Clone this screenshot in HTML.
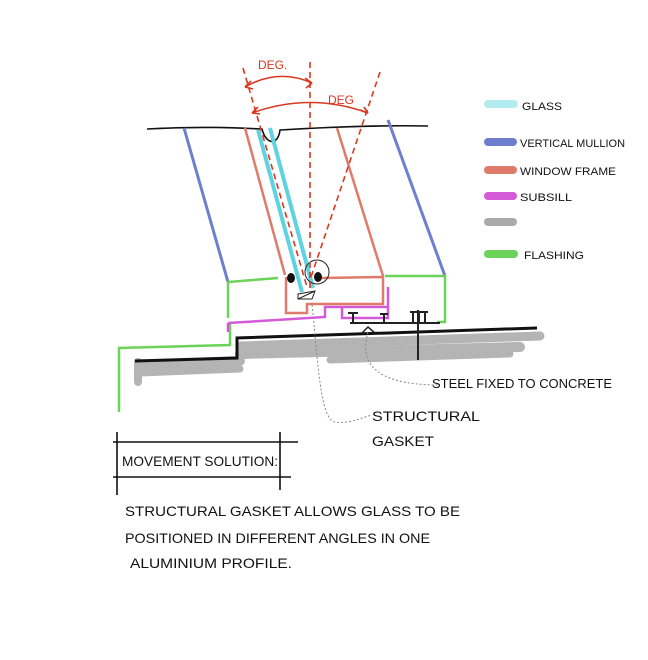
<!DOCTYPE html>
<html><head><meta charset="utf-8"><style>
html,body{margin:0;padding:0;background:#fff;}
svg{display:block}
text{font-family:"Liberation Sans",sans-serif;}
</style></head><body>
<svg width="648" height="660" viewBox="0 0 648 660" xmlns="http://www.w3.org/2000/svg">
<rect width="648" height="660" fill="#fff"/>
<g stroke="#a8a8a8" stroke-linecap="round" fill="none" opacity="0.85">
<path d="M138 362 L138 382" stroke-width="8"/>
<path d="M140 365 L240 361" stroke-width="10"/>
<path d="M240 346 L540 336" stroke-width="9"/>
<path d="M240 354 L520 347" stroke-width="10"/>
<path d="M330 360 L510 354" stroke-width="7"/>
<path d="M140 373 L240 369" stroke-width="7"/>
</g>
<path d="M135 361 L237 358 L237 338 L537 328" stroke="#111" stroke-width="3" fill="none"/>
<path d="M147 129 C200 126 240 128 262 129 C266 145 278 146 280 130 C330 127 380 125 428 126" stroke="#111" stroke-width="1.6" fill="none"/>
<path d="M184 128 L228 282" stroke="#6f7fcf" stroke-width="3" fill="none"/>
<path d="M388 120 L445 276" stroke="#6f7fcf" stroke-width="3" fill="none"/>
<g stroke="#e07a6a" stroke-width="2.5" fill="none">
<path d="M245 128 L285 275"/>
<path d="M337 128 L383 276"/>
<path d="M322 278 L383 277 L383 304 L307 304 L307 313 L286 313 L286 277"/>
</g>
<path d="M258 130 L302 292" stroke="#5fd3df" stroke-width="4" fill="none"/>
<path d="M270 128 L313 288" stroke="#5fd3df" stroke-width="4" fill="none"/>
<g stroke="#6cd35a" stroke-width="2.5" fill="none">
<path d="M278 278 L228 282 L228 318"/>
<path d="M385 276 L445 276 L445 322 L437 322"/>
<path d="M230 323 L230 345 L119 348 L119 412"/>
</g>
<g stroke="#d45ad8" stroke-width="2.5" fill="none">
<path d="M228 323 L325 317 L325 307 L387 307"/>
<path d="M342 307 L342 318 L388 318 L388 287"/>
<path d="M228 323 L228 332"/>
</g>
<g stroke="#222" stroke-width="2" fill="none">
<path d="M350 323 L440 323"/>
<path d="M418 310 L418 360"/>
<path d="M348 313 L358 313 M353 313 L353 323"/>
<path d="M380 314 L388 314 M384 314 L384 323"/>
<path d="M410 312 L428 312 M413 312 L413 323 M419 312 L419 323 M425 312 L425 323"/>
<path d="M362 333 L368 327 L375 333" stroke-width="1.5"/>
</g>
<circle cx="317" cy="272" r="12" stroke="#222" stroke-width="1" fill="none"/>
<ellipse cx="291" cy="278" rx="4" ry="5" fill="#111"/>
<ellipse cx="318" cy="277" rx="4" ry="5" fill="#111"/>
<path d="M298 294 L315 291 L312 299 L298 299 Z M298 299 L315 291" stroke="#222" stroke-width="1" fill="none"/>
<g stroke="#d9371f" stroke-width="1.6" fill="none" stroke-dasharray="6 4">
<path d="M310 62 L310 290"/>
<path d="M243 68 L307 287"/>
<path d="M380 72 L310 280"/>
</g>
<g stroke="#d9371f" stroke-width="1.6" fill="none">
<path d="M245 87 Q278 68 312 83"/>
<path d="M252 113 Q310 92 368 113"/>
<path d="M245 87 l6 -6 M245 87 l8 2 M312 83 l-7 -5 M312 83 l-6 5"/>
<path d="M252 113 l6 -6 M252 113 l8 1 M368 113 l-8 -3 M368 113 l-4 -6"/>
</g>
<text x="258" y="69" font-size="12" fill="#d9371f">DEG.</text>
<text x="328" y="104" font-size="12" fill="#d9371f">DEG</text>
<path d="M368 332 C360 360 370 385 440 385" stroke="#888" stroke-width="1" stroke-dasharray="2 2" fill="none"/>
<path d="M312 305 C318 360 320 420 335 422 C350 424 360 418 372 415" stroke="#888" stroke-width="1" stroke-dasharray="2 2" fill="none"/>
<text x="432" y="388" font-size="13" fill="#111" textLength="180" lengthAdjust="spacingAndGlyphs">STEEL FIXED TO CONCRETE</text>
<text x="372" y="421" font-size="14" fill="#111" textLength="108" lengthAdjust="spacingAndGlyphs">STRUCTURAL</text>
<text x="372" y="446" font-size="14" fill="#111" textLength="62" lengthAdjust="spacingAndGlyphs">GASKET</text>
<g stroke-width="8" stroke-linecap="round">
<path d="M488 104 L514 104" stroke="#b4ecf3"/>
<path d="M488 142 L513 142" stroke="#6f7fcf"/>
<path d="M488 170 L513 170" stroke="#e07a6a"/>
<path d="M488 196 L513 196" stroke="#d45ad8"/>
<path d="M488 222 L513 222" stroke="#aaaaaa"/>
<path d="M488 254 L514 254" stroke="#6cd35a"/>
</g>
<g font-size="11" fill="#111">
<text x="522" y="110" textLength="40" lengthAdjust="spacingAndGlyphs">GLASS</text>
<text x="520" y="147" textLength="105" lengthAdjust="spacingAndGlyphs">VERTICAL MULLION</text>
<text x="520" y="175" textLength="96" lengthAdjust="spacingAndGlyphs">WINDOW FRAME</text>
<text x="520" y="201" textLength="52" lengthAdjust="spacingAndGlyphs">SUBSILL</text>
<text x="524" y="259" textLength="60" lengthAdjust="spacingAndGlyphs">FLASHING</text>
</g>
<g stroke="#111" stroke-width="1.6">
<path d="M117 432 L117 495"/>
<path d="M280 432 L280 490"/>
<path d="M113 442 L298 442"/>
<path d="M113 477 L291 477"/>
</g>
<text x="122" y="466" font-size="14" fill="#111" textLength="156" lengthAdjust="spacingAndGlyphs">MOVEMENT SOLUTION:</text>
<g font-size="14" fill="#111">
<text x="125" y="516" textLength="335" lengthAdjust="spacingAndGlyphs">STRUCTURAL GASKET ALLOWS GLASS TO BE</text>
<text x="125" y="543" textLength="305" lengthAdjust="spacingAndGlyphs">POSITIONED IN DIFFERENT ANGLES IN ONE</text>
<text x="130" y="568" textLength="162" lengthAdjust="spacingAndGlyphs">ALUMINIUM PROFILE.</text>
</g>
</svg>
</body></html>
